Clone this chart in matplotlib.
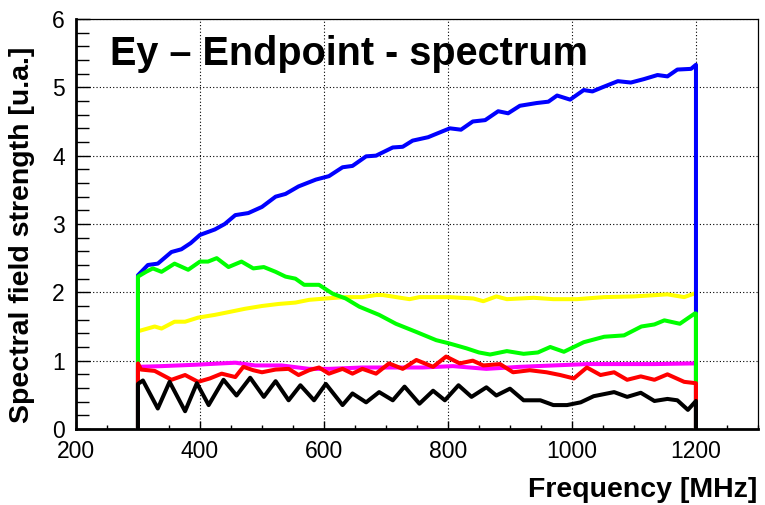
import numpy as np
import matplotlib.pyplot as plt
from matplotlib.ticker import MultipleLocator

plt.rcParams['font.family'] = ['Liberation Sans', 'DejaVu Sans']

# spectra, frequency in MHz, field strength in units of 1e-6
blue_f = [300, 316, 332, 354, 370, 385, 400, 424, 440, 457, 478, 500, 522, 538, 559,
          587, 608, 630, 646, 668, 684, 711, 727, 743, 768, 776, 803, 821, 840, 860,
          881, 897, 916, 943, 962, 976, 997, 1019, 1033, 1049, 1074, 1095, 1116,
          1138, 1154, 1170, 1192, 1200]
blue_v = [2.25, 2.40, 2.42, 2.59, 2.63, 2.72, 2.84, 2.92, 3.00, 3.13, 3.16, 3.25, 3.40,
          3.44, 3.55, 3.65, 3.70, 3.83, 3.85, 3.99, 4.00, 4.12, 4.13, 4.22, 4.27, 4.30,
          4.40, 4.38, 4.50, 4.52, 4.65, 4.62, 4.73, 4.77, 4.79, 4.88, 4.82, 4.96, 4.94,
          5.00, 5.09, 5.07, 5.12, 5.18, 5.16, 5.26, 5.27, 5.33]

green_f = [300, 313, 324, 338, 359, 381, 400, 413, 427, 446, 467, 486, 503, 522, 538,
           554, 568, 592, 614, 635, 657, 689, 716, 749, 781, 803, 830, 850, 868, 895,
           922, 945, 965, 987, 1019, 1052, 1084, 1112, 1133, 1149, 1174, 1198, 1200]
green_v = [2.23, 2.30, 2.35, 2.30, 2.42, 2.33, 2.45, 2.45, 2.50, 2.37, 2.45, 2.35, 2.37,
           2.30, 2.23, 2.20, 2.11, 2.11, 1.98, 1.91, 1.79, 1.67, 1.54, 1.42, 1.30, 1.25,
           1.18, 1.12, 1.09, 1.14, 1.10, 1.12, 1.20, 1.13, 1.27, 1.35, 1.37, 1.50, 1.53,
           1.59, 1.54, 1.69, 1.69]

yellow_f = [300, 327, 338, 359, 376, 397, 424, 446, 473, 500, 527, 554, 576, 603, 635,
            662, 684, 695, 738, 754, 803, 841, 857, 878, 895, 938, 970, 1008, 1052,
            1100, 1154, 1181, 1200]
yellow_v = [1.43, 1.50, 1.47, 1.57, 1.57, 1.63, 1.67, 1.71, 1.76, 1.80, 1.83, 1.85, 1.89,
            1.91, 1.93, 1.93, 1.96, 1.96, 1.90, 1.93, 1.93, 1.91, 1.87, 1.94, 1.90, 1.92,
            1.90, 1.90, 1.93, 1.94, 1.97, 1.93, 1.99]

magenta_f = [300, 338, 392, 457, 489, 532, 576, 608, 662, 716, 759, 808, 862, 916, 970,
             1024, 1079, 1133, 1200]
magenta_v = [0.91, 0.92, 0.94, 0.97, 0.93, 0.93, 0.88, 0.88, 0.90, 0.90, 0.90, 0.92,
             0.88, 0.91, 0.93, 0.95, 0.95, 0.95, 0.96]

red_f = [300, 305, 327, 354, 376, 397, 416, 435, 457, 470, 486, 500, 522, 543, 559, 576,
         592, 608, 630, 646, 662, 684, 705, 727, 749, 776, 797, 819, 840, 857, 884, 905,
         932, 959, 981, 1003, 1024, 1046, 1068, 1089, 1111, 1133, 1154, 1181, 1200]
red_v = [0.96, 0.87, 0.85, 0.72, 0.79, 0.69, 0.74, 0.81, 0.76, 0.91, 0.86, 0.83, 0.87,
         0.88, 0.79, 0.86, 0.90, 0.81, 0.88, 0.81, 0.88, 0.81, 0.96, 0.88, 1.01, 0.91,
         1.06, 0.96, 1.00, 0.93, 0.95, 0.83, 0.86, 0.83, 0.79, 0.74, 0.90, 0.79, 0.83,
         0.72, 0.77, 0.72, 0.80, 0.69, 0.67]

black_f = [300, 308, 332, 351, 376, 395, 414, 438, 459, 481, 503, 522, 543, 562, 584,
           603, 630, 646, 668, 689, 711, 730, 754, 776, 795, 817, 838, 862, 878, 900,
           922, 949, 970, 992, 1014, 1035, 1068, 1089, 1111, 1133, 1154, 1170, 1187, 1200]
black_v = [0.66, 0.71, 0.30, 0.69, 0.26, 0.67, 0.35, 0.72, 0.49, 0.75, 0.47, 0.70, 0.42,
           0.64, 0.42, 0.66, 0.35, 0.52, 0.39, 0.54, 0.42, 0.62, 0.37, 0.56, 0.42, 0.64,
           0.47, 0.61, 0.49, 0.59, 0.42, 0.42, 0.35, 0.35, 0.39, 0.48, 0.54, 0.47, 0.53,
           0.41, 0.44, 0.42, 0.28, 0.41]

# drawing order: later curves cover the edge drops of earlier ones
series = [
    (yellow_f, yellow_v, '#ffff00'),
    (magenta_f, magenta_v, '#ff00ff'),
    (blue_f, blue_v, '#0000ff'),
    (green_f, green_v, '#00ff00'),
    (red_f, red_v, '#ff0000'),
    (black_f, black_v, '#000000'),
]

fig = plt.figure(figsize=(7.65, 5.05), dpi=100)
ax = fig.add_axes([0.0993, 0.1505, 0.8915, 0.8119])

for f, v, col in series:
    # histogram falls back to zero at both ends of the band
    x = np.r_[f[0], f, f[-1]]
    y = np.r_[0.0, v, 0.0]
    ax.plot(x, y, color=col, lw=2.9, solid_joinstyle='round', zorder=3)

ax.set_xlim(200, 1300)
ax.set_ylim(0, 6)
ax.xaxis.set_major_locator(MultipleLocator(200))
ax.xaxis.set_minor_locator(MultipleLocator(50))
ax.yaxis.set_major_locator(MultipleLocator(1))
ax.yaxis.set_minor_locator(MultipleLocator(0.2))

ax.grid(True, which='major', color='black', linestyle=(0, (1, 2)), lw=0.8, zorder=1)

ax.tick_params(which='both', direction='in', top=False, right=False,
               labelsize=16.5, width=1.0)
ax.tick_params(axis='x', which='major', length=6, pad=8)
ax.tick_params(axis='x', which='minor', length=3.2)
ax.tick_params(axis='y', which='major', length=10, pad=8)
ax.tick_params(axis='y', which='minor', length=9)

for side in ['bottom', 'left']:
    ax.spines[side].set_linewidth(2.0)
for side in ['top', 'right']:
    ax.spines[side].set_linewidth(0.9)

fig.text(110 / 765, 1 - 65 / 505, 'Ey \u2013 Endpoint - spectrum', fontsize=28.5,
         fontweight='bold', ha='left', va='baseline')
fig.text(22 / 765, 1 - 235 / 505, 'Spectral field strength [u.a.]', fontsize=20.5,
         fontweight='bold', rotation=90, ha='center', va='center')
fig.text(757 / 765, 1 - 490 / 505, 'Frequency [MHz]', fontsize=20.5,
         fontweight='bold', ha='right', va='center')

fig.savefig('out.png', dpi=100)
